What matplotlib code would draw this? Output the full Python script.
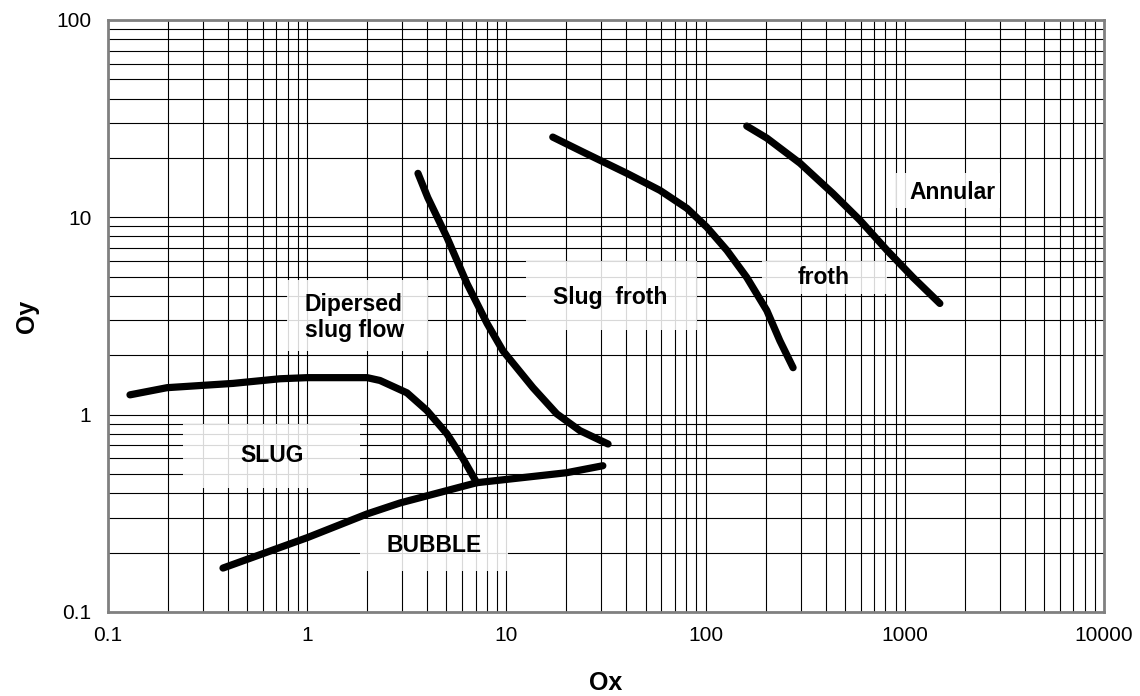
import matplotlib
matplotlib.use('Agg')
import matplotlib.pyplot as plt
from matplotlib.patches import Rectangle
from matplotlib.ticker import LogLocator, FixedLocator, FixedFormatter

plt.rcParams['font.family'] = ['Liberation Sans', 'DejaVu Sans']

# boundary curves
slug_x = [0.129, 0.198, 0.424, 0.73, 1.0, 2.0, 2.32, 3.17, 3.99, 5.03, 6.05, 7.1]
slug_y = [1.26, 1.37, 1.44, 1.52, 1.54, 1.54, 1.49, 1.29, 1.05, 0.80, 0.60, 0.452]

bubble_x = [0.378, 1.0, 2.0, 2.93, 7.1, 20.1, 30.5]
bubble_y = [0.167, 0.238, 0.314, 0.357, 0.452, 0.508, 0.551]

disp_x = [3.60, 4.03, 5.03, 6.34, 8.0, 9.6, 13.6, 17.9, 23.4, 32.4]
disp_y = [16.7, 12.6, 7.92, 4.62, 2.90, 2.11, 1.37, 1.01, 0.83, 0.71]

froth_x = [17.1, 24.3, 40.3, 59.0, 80.7, 101.6, 128, 161, 203, 236, 275]
froth_y = [25.5, 21.4, 16.7, 13.7, 11.1, 8.9, 6.8, 4.96, 3.37, 2.37, 1.73]

annular_x = [161, 203, 298, 436, 596, 815, 1100, 1500]
annular_y = [29.0, 25.2, 18.8, 13.2, 9.66, 6.8, 4.96, 3.66]

x_ticks = [0.1, 1, 10, 100, 1000, 10000]
x_tick_labels = ['0.1', '1', '10', '100', '1000', '10000']
y_ticks = [0.1, 1, 10, 100]
y_tick_labels = ['0.1', '1', '10', '100']

region_names = ['SLUG', 'BUBBLE', 'Dipersed\nslug flow', 'Slug  froth', 'froth', 'Annular']

# label placement: text centre, then the white box behind it (x0, x1, y0, y1)
label_pos = [(0.666, 0.619), (4.33, 0.216), (1.72, 3.11), (33.1, 3.93), (393, 4.96), (1726, 13.4)]
label_box = [(0.238, 1.84, 0.426, 0.900),
             (1.84, 10.2, 0.161, 0.297),
             (0.792, 4.03, 2.11, 4.79),
             (12.5, 90.6, 2.67, 5.98),
             (192, 815, 4.11, 5.98),
             (904, 3006, 11.2, 16.7)]

fig = plt.figure(figsize=(11.4, 6.96), dpi=100)
ax = fig.add_axes([0.0947, 0.1207, 0.8737, 0.8506])
ax.set_xscale('log')
ax.set_yscale('log')
ax.set_xlim(0.1, 10000)
ax.set_ylim(0.1, 100)

ax.xaxis.set_major_locator(FixedLocator(x_ticks))
ax.xaxis.set_major_formatter(FixedFormatter(x_tick_labels))
ax.yaxis.set_major_locator(FixedLocator(y_ticks))
ax.yaxis.set_major_formatter(FixedFormatter(y_tick_labels))
ax.xaxis.set_minor_locator(LogLocator(base=10, subs=range(2, 10), numticks=20))
ax.yaxis.set_minor_locator(LogLocator(base=10, subs=range(2, 10), numticks=20))
ax.xaxis.set_minor_formatter(plt.NullFormatter())
ax.yaxis.set_minor_formatter(plt.NullFormatter())

ax.grid(True, which='both', color='black', linewidth=0.8)
ax.set_axisbelow(True)
ax.tick_params(which='both', length=0, labelsize=15)
ax.tick_params(axis='x', pad=10)
ax.tick_params(axis='y', pad=12)

for s in ax.spines.values():
    s.set_color('#808080')
    s.set_linewidth(2)

for xs, ys in [(slug_x, slug_y), (bubble_x, bubble_y), (disp_x, disp_y),
               (froth_x, froth_y), (annular_x, annular_y)]:
    ax.plot(xs, ys, color='black', linewidth=5.2, solid_capstyle='round',
            solid_joinstyle='round', zorder=3)

for txt, (tx, ty), (x0, x1, y0, y1) in zip(region_names, label_pos, label_box):
    ax.add_patch(Rectangle((x0, y0), x1 - x0, y1 - y0, facecolor='white',
                           edgecolor='none', alpha=0.85, zorder=2.5))
    ax.text(tx, ty, txt, fontsize=16.5, fontweight='bold', ha='center', va='center',
            multialignment='left', zorder=4)

ax.set_xlabel('Ox', fontsize=18, fontweight='bold', labelpad=19)
ax.set_ylabel('Oy', fontsize=18, fontweight='bold', labelpad=12)

fig.savefig('out.png', dpi=100)
